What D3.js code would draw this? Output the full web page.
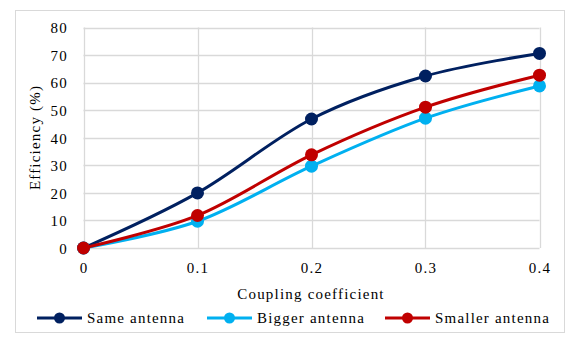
<!DOCTYPE html>
<html><head><meta charset="utf-8">
<script src="https://cdn.jsdelivr.net/npm/d3@7"></script>
<style>
body{margin:0;background:#fff;}
</style></head>
<body><svg id="c" width="579" height="350"></svg>
<script>
const xValues = [0, 0.1, 0.2, 0.3, 0.4];
const seriesNames = ["Same antenna", "Bigger antenna", "Smaller antenna"];
const sameAntenna = [0, 20, 46.8, 62.4, 70.6];
const biggerAntenna = [0, 9.7, 29.7, 47.1, 58.8];
const smallerAntenna = [0, 11.8, 33.8, 51.1, 62.7];
const seriesColors = ["#002060", "#00B0F0", "#C00000"];
const yTicks = [0, 10, 20, 30, 40, 50, 60, 70, 80];
const xTicks = [0, 0.1, 0.2, 0.3, 0.4];

const FONT = "'Liberation Serif', 'Times New Roman', serif";
const svg = d3.select("#c");
const L = 83.5, R = 539.5, T = 27.5, B = 248;
const x = d3.scaleLinear().domain([0, 0.4]).range([L, R]);
const y = d3.scaleLinear().domain([0, 80]).range([B, T]);
const grid = "#D9D9D9";

svg.append("rect").attr("x", 15.5).attr("y", 10.5).attr("width", 549).attr("height", 322)
  .attr("fill", "#fff").attr("stroke", grid).attr("stroke-width", 1);

svg.append("g").selectAll("line").data(yTicks).join("line")
  .attr("x1", L).attr("x2", R).attr("y1", d => Math.round(y(d)) + 0.5).attr("y2", d => Math.round(y(d)) + 0.5)
  .attr("stroke", grid).attr("stroke-width", 1.3);
svg.append("g").selectAll("line").data(xTicks).join("line")
  .attr("y1", T).attr("y2", B).attr("x1", d => Math.round(x(d)) + 0.5).attr("x2", d => Math.round(x(d)) + 0.5)
  .attr("stroke", grid).attr("stroke-width", 1.3);

const fs = 15, ls = "1.2px";
function styleText(sel) {
  sel.style("font-family", FONT).style("font-size", fs + "px").style("letter-spacing", ls).attr("fill", "#000");
}
const yAxis = d3.axisLeft(y).tickValues(yTicks).tickSize(0).tickPadding(0).tickFormat(d3.format("d"));
const ya = svg.append("g").attr("transform", `translate(68,0)`).call(yAxis);
ya.attr("font-family", null).attr("font-size", null);
ya.select(".domain").remove();
ya.selectAll("text").attr("dy", "0.35em").call(styleText);
const xAxis = d3.axisBottom(x).tickValues(xTicks).tickSize(0).tickPadding(0).tickFormat(d => d === 0 ? "0" : d3.format(".1f")(d));
const xa = svg.append("g").attr("transform", `translate(0,262)`).call(xAxis);
xa.attr("font-family", null).attr("font-size", null);
xa.select(".domain").remove();
xa.selectAll("text").attr("dy", "0.71em").call(styleText);

svg.append("text").attr("x", 311).attr("y", 299).attr("text-anchor", "middle")
  .text("Coupling coefficient").call(styleText);
svg.append("text").attr("transform", "translate(40,137.5) rotate(-90)").attr("text-anchor", "middle")
  .text("Efficiency (%)").call(styleText);

const data = [sameAntenna, biggerAntenna, smallerAntenna];
const line = d3.line().x((d, i) => x(xValues[i])).y(d => y(d)).curve(d3.curveCardinal.tension(0));
data.forEach((vals, k) => {
  const g = svg.append("g");
  g.append("path").attr("d", line(vals)).attr("fill", "none").attr("stroke", seriesColors[k]).attr("stroke-width", 3);
  g.selectAll("circle").data(vals).join("circle")
    .attr("cx", (d, i) => x(xValues[i])).attr("cy", d => y(d)).attr("r", 6.5).attr("fill", seriesColors[k]);
});

const legX = [37, 207, 385];
seriesNames.forEach((n, k) => {
  const g = svg.append("g").attr("transform", `translate(${legX[k]},318)`);
  g.append("line").attr("x1", 0).attr("x2", 45).attr("stroke", seriesColors[k]).attr("stroke-width", 3);
  g.append("circle").attr("cx", 22.5).attr("r", 5.5).attr("fill", seriesColors[k]);
  g.append("text").attr("x", 50).attr("dy", "0.35em").text(n).call(styleText);
});
</script></body></html>
